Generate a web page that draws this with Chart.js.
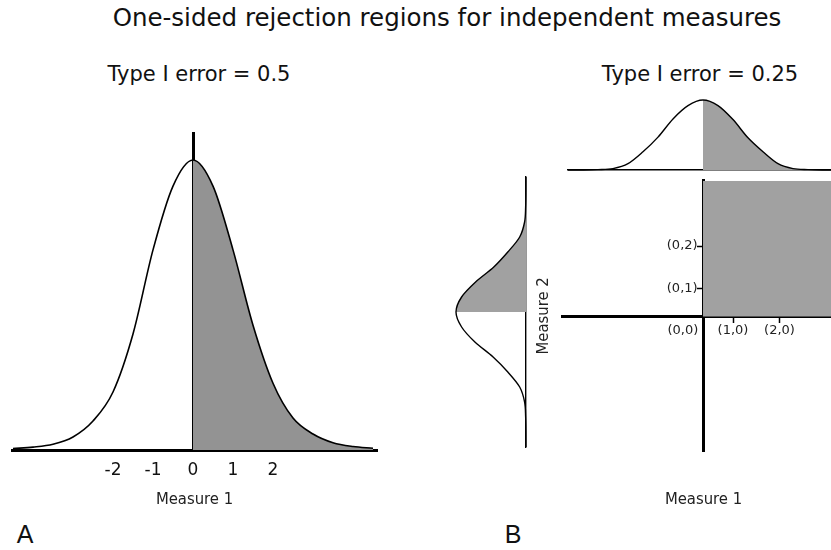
<!DOCTYPE html>
<html>
<head>
<meta charset="utf-8">
<title>One-sided rejection regions</title>
<script src="https://cdn.jsdelivr.net/npm/chart.js@4.4.1/dist/chart.umd.min.js"></script>
<style>
  html, body { margin: 0; padding: 0; background: #fff; width: 831px; height: 550px; overflow: hidden; }
  .txt { position: absolute; white-space: nowrap; color: #111; transform: translate(-50%, -50%); }
  canvas { position: absolute; }
</style>
</head>
<body>
<div class="txt" style="left:447px; top:17px; font-size:24.5px; font-family:'DejaVu Sans';">One-sided rejection regions for independent measures</div>
<div class="txt" style="left:199px; top:74px; font-size:21px; font-family:'DejaVu Sans';">Type I error = 0.5</div>
<div class="txt" style="left:700px; top:74px; font-size:21px; font-family:'DejaVu Sans';">Type I error = 0.25</div>
<div class="txt" style="left:25px; top:534px; font-size:25px; font-family:'Liberation Sans';">A</div>
<div class="txt" style="left:513px; top:534px; font-size:25px; font-family:'Liberation Sans';">B</div>

<canvas id="chartA" width="400" height="394" style="left:0; top:120px;"></canvas>
<canvas id="topB" width="280" height="82" style="left:560px; top:90px;"></canvas>
<canvas id="leftB" width="90" height="285" style="left:440px; top:170px;"></canvas>
<canvas id="quadB" width="315" height="344" style="left:530px; top:170px;"></canvas>

<script>
// nilai pengukuran (sumbu) dan tinggi kurva yang dibaca dari gambar
const measureVals = [-4.5, -4, -3.5, -3, -2.5, -2, -1.5, -1, -0.5, 0, 0.5, 1, 1.5, 2, 2.5, 3, 3.5, 4, 4.5];
const densityA = [0.005, 0.01, 0.02, 0.045, 0.1, 0.2, 0.4, 0.69, 0.91, 1, 0.91, 0.69, 0.43, 0.23, 0.11, 0.055, 0.025, 0.012, 0.006];
const densityB = [0.0005, 0.001, 0.005, 0.02, 0.09, 0.26, 0.47, 0.73, 0.92, 1, 0.92, 0.72, 0.46, 0.26, 0.09, 0.02, 0.005, 0.001, 0.0005];

// label sumbu
const ticksA = [-2, -1, 0, 1, 2];
const quadXTicks = [-0.67, 1, 2.55];
const quadXLabels = ["(0,0)", "(1,0)", "(2,0)"];
const quadYTicks = [0.93, 2.37];
const quadYLabels = ["(0,1)", "(0,2)"];

const shadeA = "#939393";
const shadeB = "#a1a1a1";
const clear = "rgba(0,0,0,0)";
const narrowFont = "'DejaVu Sans Condensed', 'Liberation Sans', sans-serif";

// batas sumbu panel B
const Q_X_MIN = -4.7, Q_X_MAX = 4.733;
const Q_Y_MIN = -4.533, Q_Y_MAX = 4.567;

const noLegend = { legend: { display: false }, tooltip: { enabled: false } };

function curvePoints(xs, ys) {
  return xs.map((x, i) => ({ x: x, y: ys[i] }));
}

// ---------------- panel A ----------------
new Chart(document.getElementById("chartA"), {
  type: "line",
  data: {
    datasets: [
      {
        data: curvePoints(measureVals, densityA),
        borderColor: "#000",
        borderWidth: 1.6,
        backgroundColor: shadeA,
        fill: "origin",
        segment: { backgroundColor: (c) => (c.p0.parsed.x >= 0 ? shadeA : clear) },
        cubicInterpolationMode: "monotone",
        pointRadius: 0,
        clip: false,
      },
    ],
  },
  options: {
    responsive: false,
    animation: false,
    events: [],
    layout: { padding: { left: 12, right: 23, top: 13, bottom: 0 } },
    plugins: noLegend,
    scales: {
      x: {
        type: "linear",
        min: -4.525,
        max: 4.6,
        position: "bottom",
        z: 1,
        afterBuildTicks: (s) => { s.ticks = ticksA.map((v) => ({ value: v })); },
        afterFit: (s) => { s.height = 64; },
        grid: { display: false, drawTicks: false },
        border: { display: true, color: "#000", width: 3 },
        ticks: {
          padding: 10,
          color: "#111",
          autoSkip: false,
          maxRotation: 0,
          font: { family: "DejaVu Sans", size: 17 },
          callback: (v) => String(v),
        },
        title: { display: true, text: "Measure 1", color: "#222", font: { family: narrowFont, size: 16.5 } },
      },
      y: {
        type: "linear",
        min: 0,
        max: 1.093,
        position: { x: 0 },
        z: 1,
        grid: { display: false, drawTicks: false },
        ticks: { display: false },
        border: { display: true, color: "#000", width: 3 },
      },
    },
  },
});

// ---------------- panel B: kurva atas ----------------
new Chart(document.getElementById("topB"), {
  type: "line",
  data: {
    datasets: [
      {
        data: curvePoints(measureVals, densityB),
        borderColor: "#000",
        borderWidth: 1.4,
        backgroundColor: shadeB,
        fill: "origin",
        segment: { backgroundColor: (c) => (c.p0.parsed.x >= 0 ? shadeB : clear) },
        cubicInterpolationMode: "monotone",
        pointRadius: 0,
        clip: false,
      },
    ],
  },
  options: {
    responsive: false,
    animation: false,
    events: [],
    layout: { padding: { left: 8, right: 0, top: 10, bottom: 2 } },
    plugins: noLegend,
    scales: {
      x: {
        type: "linear",
        min: -4.5,
        max: 4.567,
        position: { y: 0 },
        z: 1,
        grid: { display: false, drawTicks: false },
        ticks: { display: false },
        border: { display: true, color: "#000", width: 1.4 },
      },
      y: { type: "linear", min: 0, max: 1, display: false },
    },
  },
});

// ---------------- panel B: kurva kiri (Measure 2) ----------------
new Chart(document.getElementById("leftB"), {
  type: "line",
  data: {
    datasets: [
      {
        data: measureVals.map((m, i) => ({ x: densityB[i], y: m })),
        borderColor: "#000",
        borderWidth: 1.4,
        backgroundColor: shadeB,
        fill: "origin",
        segment: { backgroundColor: (c) => (c.p0.parsed.y >= 0 ? shadeB : clear) },
        cubicInterpolationMode: "monotone",
        pointRadius: 0,
        clip: false,
      },
    ],
  },
  options: {
    indexAxis: "y",
    responsive: false,
    animation: false,
    events: [],
    layout: { padding: { left: 16, right: 4, top: 7, bottom: 8 } },
    plugins: noLegend,
    scales: {
      x: { type: "linear", min: 0, max: 1, reverse: true, display: false },
      y: {
        type: "linear",
        min: -4.5,
        max: 4.5,
        position: { x: 0 },
        z: 1,
        grid: { display: false, drawTicks: false },
        ticks: { display: false },
        border: { display: true, color: "#000", width: 1.4 },
      },
    },
  },
});

// ---------------- panel B: kuadran ----------------
const quadTickFont = { family: "DejaVu Sans", size: 13 };

new Chart(document.getElementById("quadB"), {
  type: "line",
  data: {
    datasets: [
      {
        // daerah penolakan: x >= 0 dan y >= 0
        data: [
          { x: 0, y: Q_Y_MAX },
          { x: Q_X_MAX, y: Q_Y_MAX },
        ],
        xAxisID: "x",
        yAxisID: "y",
        borderWidth: 0,
        backgroundColor: shadeB,
        fill: "origin",
        pointRadius: 0,
      },
    ],
  },
  options: {
    responsive: false,
    animation: false,
    events: [],
    layout: { padding: { left: 0, right: 0, top: 8, bottom: 0 } },
    plugins: noLegend,
    scales: {
      x: {
        type: "linear",
        min: Q_X_MIN,
        max: Q_X_MAX,
        position: { y: 0 },
        z: 1,
        afterBuildTicks: (s) => { s.ticks = quadXTicks.map((v) => ({ value: v })); },
        grid: {
          display: true,
          drawOnChartArea: false,
          drawTicks: true,
          tickLength: 5,
          tickWidth: 1.5,
          tickColor: (c) => (c.tick && c.tick.value < 0 ? clear : "#000"),
        },
        border: { display: true, color: "#000", width: 3 },
        ticks: {
          padding: 1,
          color: "#222",
          autoSkip: false,
          maxRotation: 0,
          font: quadTickFont,
          callback: (v, i) => quadXLabels[i],
        },
      },
      y: {
        type: "linear",
        min: Q_Y_MIN,
        max: Q_Y_MAX,
        position: { x: 0 },
        z: 1,
        afterBuildTicks: (s) => { s.ticks = quadYTicks.map((v) => ({ value: v })); },
        grid: { display: true, drawOnChartArea: false, drawTicks: true, tickLength: 5, tickWidth: 1.5, tickColor: "#000" },
        border: { display: true, color: "#000", width: 3 },
        ticks: { display: false },
      },
      // label (0,1), (0,2) sedikit di kiri garis tick
      yL: {
        type: "linear",
        min: Q_Y_MIN,
        max: Q_Y_MAX,
        position: { x: -0.18 },
        z: 1,
        afterBuildTicks: (s) => { s.ticks = quadYTicks.map((v) => ({ value: v })); },
        grid: { display: false, drawTicks: false },
        border: { display: false },
        ticks: {
          color: "#222",
          autoSkip: false,
          font: quadTickFont,
          callback: (v, i) => quadYLabels[i],
        },
      },
      xT: {
        type: "linear",
        position: "bottom",
        afterFit: (s) => { s.height = 63; },
        grid: { display: false, drawTicks: false },
        ticks: { display: false },
        border: { display: false },
        title: { display: true, text: "Measure 1", color: "#222", font: { family: narrowFont, size: 16.5 } },
      },
      yT: {
        type: "linear",
        position: "left",
        afterFit: (s) => { s.width = 32; },
        grid: { display: false, drawTicks: false },
        ticks: { display: false },
        border: { display: false },
        title: { display: true, text: "Measure 2", color: "#222", font: { family: narrowFont, size: 16.5 } },
      },
    },
  },
});
</script>
</body>
</html>
